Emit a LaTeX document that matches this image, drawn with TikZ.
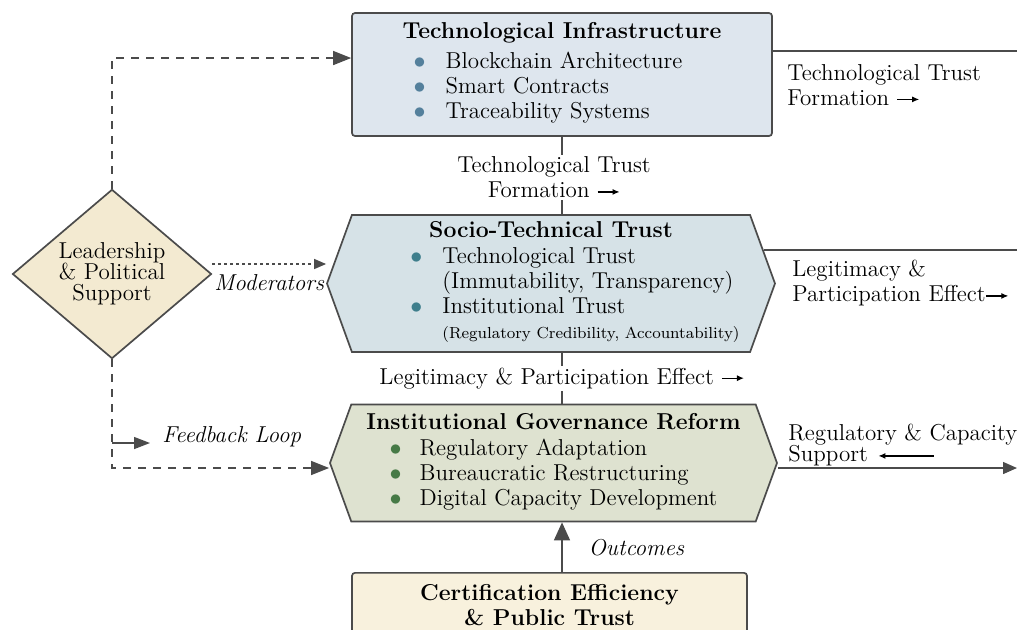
\documentclass[tikz,border=0pt]{standalone}
\usepackage{amsmath}
\usepackage{tikz}
\usetikzlibrary{shapes,arrows.meta,calc}
\usepackage{color}

\definecolor{edge}{RGB}{75,75,75}
\definecolor{techfill}{RGB}{222,230,238}
\definecolor{socfill}{RGB}{214,226,231}
\definecolor{govfill}{RGB}{222,226,208}
\definecolor{leadfill}{RGB}{243,234,209}
\definecolor{certfill}{RGB}{248,241,221}
\definecolor{techdot}{RGB}{84,128,156}
\definecolor{socdot}{RGB}{62,126,140}
\definecolor{govdot}{RGB}{70,122,70}

\newcommand{\basefont}{\fontsize{11.5}{12.5}\selectfont}
\newcommand{\itm}[1]{\textcolor{#1}{$\bullet$}}
\newcommand{\rarr}{\tikz[baseline=-0.6ex]\draw[line width=0.6pt,-{Latex[length=3.5pt,width=3pt]}] (0pt,0pt) -- (11pt,0pt);}
\newcommand{\larr}{\tikz[baseline=-0.6ex]\draw[line width=0.6pt,{Latex[length=3.5pt,width=3pt]}-] (0pt,0pt) -- (28pt,0pt);}

\begin{document}
\begin{tikzpicture}[x=0.5pt,y=-0.5pt,
  block/.style={draw=edge, line width=0.85pt, rounded corners=1.5pt, align=center, inner sep=0pt, font=\basefont},
  hexblock/.style={draw=edge, line width=0.85pt, shape=signal, signal to=east and west, signal pointer angle=140, align=center, inner sep=0pt, font=\basefont},
  decision/.style={draw=edge, line width=0.85pt, shape=diamond, align=center, inner sep=0pt, fill=leadfill, minimum width=99.5pt, minimum height=76pt, font=\fontsize{11.5}{10.5}\selectfont},
  note/.style={align=left, inner sep=1pt, font=\basefont},
  link/.style={draw=edge, line width=0.7pt},
  dashlink/.style={link, dash pattern=on 4pt off 3.5pt, -{Triangle[length=9pt,width=7pt]}},
  dotlink/.style={link, dash pattern=on 1.5pt off 1.5pt, -{Triangle[length=6pt,width=5pt]}}
  ]
  \useasboundingbox[fill=white] (0,0) rectangle (1017,629);

  % main column
  \node[block, fill=techfill, minimum width=210pt, minimum height=61.5pt] (infra) at (562,74.5) {
    \textbf{Technological Infrastructure}\\[3pt]
    \begin{tabular}{@{}l@{\hspace{10pt}}l@{}}
      \itm{techdot} & Blockchain Architecture\\
      \itm{techdot} & Smart Contracts\\
      \itm{techdot} & Traceability Systems
    \end{tabular}\hspace*{14pt}};

  \node[hexblock, fill=socfill, minimum width=224pt, minimum height=68.5pt] (soc) at (551,283.5) {
    \textbf{Socio-Technical Trust}\\[3pt]
    \hspace*{24pt}\begin{tabular}{@{}l@{\hspace{10pt}}l@{}}
      \itm{socdot} & Technological Trust\\
       & (Immutability, Transparency)\\
      \itm{socdot} & Institutional Trust\\
       & {\fontsize{8}{10}\selectfont (Regulatory Credibility, Accountability)}
    \end{tabular}};

  \node[hexblock, fill=govfill, minimum width=223.5pt, minimum height=58.5pt] (gov) at (553.5,463) {
    \textbf{Institutional Governance Reform}\\[3pt]
    \begin{tabular}{@{}l@{\hspace{9pt}}l@{}}
      \itm{govdot} & Regulatory Adaptation\\
      \itm{govdot} & Bureaucratic Restructuring\\
      \itm{govdot} & Digital Capacity Development
    \end{tabular}};

  \node[block, fill=certfill, anchor=north, minimum width=197.5pt, inner ysep=6pt] (cert) at (549.5,572) {
    \textbf{Certification Efficiency}\\ \textbf{\& Public Trust}};

  % moderator on the left
  \node[decision] (lead) at (112,274) {Leadership\\ \& Political\\ Support};

  % links down the column
  \draw[link] (infra.south) -- (infra.south |- soc.north)
    node[midway, fill=white, note, align=center, xshift=-4pt, yshift=-1pt] {Technological Trust\\ Formation \rarr};
  \draw[link] (infra.south |- soc.south) -- (infra.south |- gov.north)
    node[midway, fill=white, note] {Legitimacy \& Participation Effect \rarr};
  \draw[link, -{Triangle[length=9pt,width=8pt]}] (infra.south |- cert.north) -- (infra.south |- gov.south)
    node[midway, right=12pt, note, font=\basefont\itshape] {Outcomes};

  % leadership paths
  \draw[dashlink] (lead.north) |- ([yshift=8.25pt]infra.west);
  \draw[dotlink] ([yshift=5pt]lead.east) -- ([yshift=5pt]lead.east -| soc.west)
    node[midway, below=4pt, note, font=\basefont\itshape] {Moderators};
  \draw[dashlink] (lead.south) |- ([yshift=-2.5pt]gov.west);
  \coordinate (fb) at (112,443);
  \coordinate (fbend) at (150,443);
  \draw[link, -{Triangle[length=8pt,width=6pt]}] (fb) -- (fbend);
  \node[note, anchor=west, font=\basefont\itshape] (fblabel) at (160,437) {Feedback Loop};

  % outgoing effects on the right
  \coordinate (techout) at (1017,51);
  \coordinate (socout) at (1017,250);
  \draw[link] (infra.east |- techout) -- (techout);
  \node[note, anchor=north west] (techlbl) at (785,62) {Technological Trust\\ Formation \rarr};
  \draw[link] ([xshift=-6pt]soc.east |- socout) -- (socout);
  \node[note, anchor=north west] (soclbl) at (790,258) {Legitimacy \&\\ Participation Effect\rarr};
  \draw[link, -{Triangle[length=7pt,width=6pt]}] ([yshift=-2.5pt]gov.east) -- ([yshift=-2.5pt]gov.east -| techout);
  \node[note, anchor=north west, font=\fontsize{11.5}{10.5}\selectfont] (govlbl) at (786,422) {Regulatory \& Capacity\\ Support\hspace{5pt}\larr};
\end{tikzpicture}
\end{document}
